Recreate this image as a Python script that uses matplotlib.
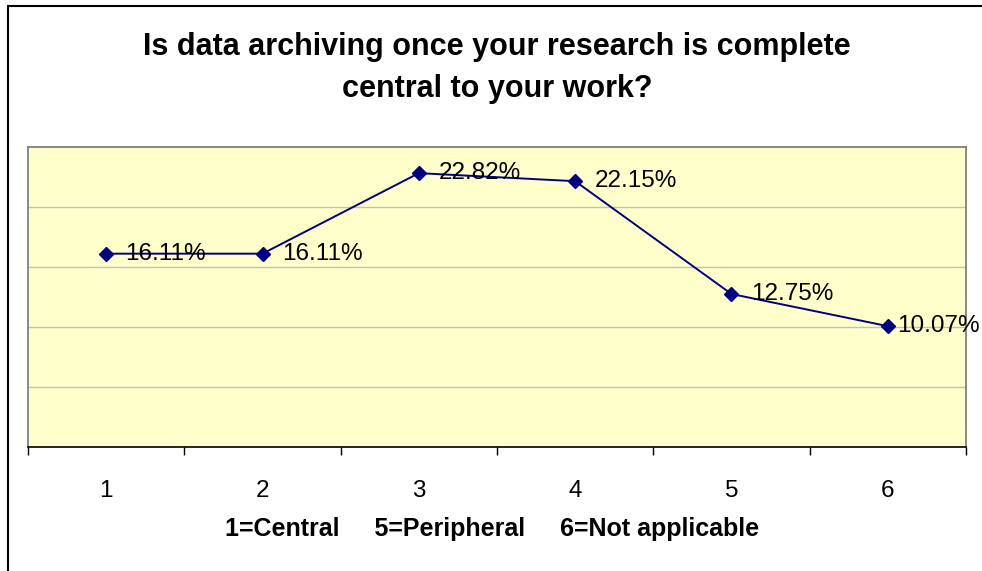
import matplotlib
matplotlib.use("Agg")
import matplotlib.pyplot as plt
from matplotlib.patches import Rectangle

plt.rcParams['font.family'] = ['Liberation Sans', 'DejaVu Sans']

categories = [1, 2, 3, 4, 5, 6]
values = [16.11, 16.11, 22.82, 22.15, 12.75, 10.07]
title = "Is data archiving once your research is complete\ncentral to your work?"
xlabel = "1=Central     5=Peripheral     6=Not applicable"

fig = plt.figure(figsize=(9.82, 5.71), dpi=100)
W, H = 982, 571

# outer chart border (cropped at right/bottom in the original)
fig.patches.append(Rectangle((8 / W, -0.1), 1.2, 1 - 6 / H + 0.1, transform=fig.transFigure,
                             fill=False, edgecolor='black', linewidth=1.5))

ax = fig.add_axes([28 / W, (H - 447) / H, (966 - 28) / W, (447 - 147) / H])
ax.set_facecolor('#FFFFCC')

ax.plot(categories, values, color='#000080', linewidth=1.4, marker='D', markersize=7.5,
        markerfacecolor='#000080', markeredgecolor='#000080', zorder=3)
for i, (x, v) in enumerate(zip(categories, values)):
    dx = 7 if i == len(values) - 1 else 14
    ax.annotate(f"{v:.2f}%", (x, v), xytext=(dx, 0), textcoords='offset points',
                ha='left', va='center', fontsize=17.5, color='black', zorder=4,
                annotation_clip=False)

ax.set_xlim(0.5, 6.5)
ax.set_ylim(0, 25)
ax.set_yticks([5, 10, 15, 20])
ax.yaxis.grid(True, color='#C0C0C0', linewidth=1)
ax.set_axisbelow(True)
ax.tick_params(axis='y', left=False, labelleft=False)

ax.set_xticks(categories)
ax.set_xticklabels([str(c) for c in categories], fontsize=17.5)
ax.set_xticks([0.5 + i for i in range(7)], minor=True)
ax.tick_params(axis='x', which='major', length=0, pad=24)
ax.tick_params(axis='x', which='minor', length=6, width=1, color='black', direction='out')

for side in ('left', 'top', 'right'):
    ax.spines[side].set_color('#808080')
    ax.spines[side].set_linewidth(1.3)
ax.spines['bottom'].set_color('black')
ax.spines['bottom'].set_linewidth(1.2)

fig.text(0.5 * (28 + 966) / W, 1 - 68 / H, title, ha='center', va='center',
         fontsize=22, fontweight='bold', linespacing=1.5)
fig.text(492 / W, 1 - 529 / H, xlabel, ha='center', va='center',
         fontsize=18, fontweight='bold')

fig.savefig("out.png", dpi=100, facecolor='white')
